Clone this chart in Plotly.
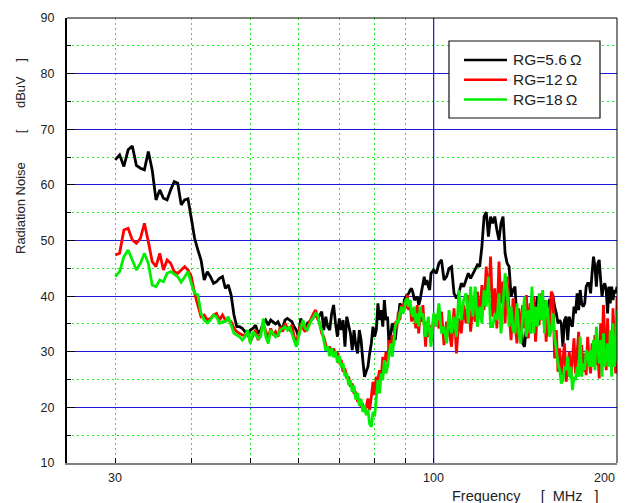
import numpy as np
import plotly.graph_objects as go

# Sweep points of the receiver: 0.5 MHz steps up to 100 MHz, 1 MHz steps above
FREQ_LOW = np.arange(30.0, 100.01, 0.5)
FREQ_HIGH = np.arange(101.0, 200.01, 1.0)
FREQ_MHZ = np.concatenate([FREQ_LOW, FREQ_HIGH])

# Radiated noise level [dBuV] for each gate resistance
RG_5P6 = [
    # 30 .. 50 MHz
    64.5, 65.4, 63.3, 66.3, 67.0, 63.5, 63.0, 62.7, 66.0, 62.7,
    57.3, 59.1, 57.6, 57.3, 59.1, 60.6, 60.3, 56.4, 57.3, 57.5,
    54.0, 50.4, 48.3, 46.5, 42.9, 44.4, 43.5, 42.3, 42.6, 43.2,
    43.5, 41.4, 42.0, 40.2, 36.6, 34.5, 34.5, 34.2, 33.6, 33.0,
    33.9,
    # 50.5 .. 100 MHz
    34.2, 34.8, 33.3, 33.9, 35.1, 35.7, 34.8, 35.7, 35.4, 35.0,
    35.4, 34.5, 34.2, 35.7, 36.0, 35.7, 35.4, 34.5, 33.9, 32.7,
    36.0, 34.5, 33.9, 35.1, 35.4, 35.7, 36.3, 36.6, 36.0, 36.6,
    37.2, 33.9, 36.3, 34.5, 33.9, 36.9, 38.4, 35.1, 32.7, 36.0,
    33.9, 35.7, 30.9, 36.3, 34.5, 33.3, 30.3, 33.9, 31.2, 29.7,
    33.9, 32.1, 28.5, 25.5, 26.5, 27.3, 29.7, 31.5, 34.5, 32.7,
    33.9, 38.7, 35.7, 37.5, 34.5, 39.3, 35.7, 36.3, 30.9, 32.7,
    35.1, 34.5, 32.1, 35.1, 35.7, 38.7, 38.1, 36.9, 39.3, 39.9,
    40.2, 40.5, 41.1, 41.4, 40.5, 39.3, 39.6, 39.9, 38.4, 39.3,
    40.8, 42.3, 43.5, 42.0, 42.9, 41.7, 41.1, 44.1, 44.4, 44.7,
    # 101 .. 200 MHz
    44.1, 45.9, 46.5, 42.9, 43.5, 45.0, 45.3, 40.5, 39.6, 40.5,
    42.3, 41.7, 42.9, 44.1, 43.2, 44.1, 44.7, 45.6, 45.3, 48.9,
    54.3, 55.1, 50.7, 54.3, 53.1, 54.3, 51.9, 50.1, 53.1, 54.3,
    47.7, 45.9, 45.3, 39.9, 41.1, 41.7, 35.7, 33.9, 35.7, 31.5,
    30.9, 34.5, 35.7, 33.3, 36.9, 38.1, 37.5, 39.9, 38.7, 36.9,
    35.7, 36.3, 37.5, 38.1, 39.3, 39.3, 39.9, 38.1, 36.9, 35.1,
    35.7, 35.1, 30.9, 35.7, 36.3, 32.1, 36.3, 35.1, 34.5, 38.1,
    36.9, 40.5, 37.5, 41.1, 38.7, 38.1, 38.7, 41.7, 42.3, 42.3,
    40.5, 44.1, 47.1, 45.3, 41.7, 45.9, 46.5, 42.9, 39.9, 41.7,
    42.3, 41.1, 36.9, 41.7, 38.7, 41.7, 39.3, 41.1, 40.5, 41.7,
]

RG_12 = [
    # 30 .. 50 MHz
    47.4, 47.7, 51.9, 52.2, 50.1, 49.5, 50.4, 53.1, 49.8, 46.2,
    45.3, 47.7, 44.7, 46.5, 45.9, 44.4, 44.1, 44.7, 45.3, 44.7,
    43.5, 40.5, 38.4, 36.3, 36.6, 35.7, 36.0, 36.6, 36.9, 35.7,
    36.6, 35.7, 35.7, 35.4, 34.2, 33.6, 33.3, 33.0, 33.0, 33.6,
    31.8,
    # 50.5 .. 100 MHz
    33.0, 33.9, 32.1, 33.3, 35.1, 33.6, 32.4, 34.2, 33.0, 33.6,
    32.7, 34.5, 33.6, 35.1, 34.2, 33.9, 34.8, 32.7, 31.8, 33.3,
    35.1, 34.2, 33.6, 34.5, 35.4, 36.0, 36.9, 37.5, 36.0, 35.1,
    33.3, 32.7, 31.2, 30.3, 30.9, 29.7, 30.6, 29.4, 29.7, 28.2,
    28.5, 26.4, 27.0, 25.2, 25.5, 23.7, 24.3, 22.5, 22.8, 21.0,
    21.6, 20.1, 20.4, 19.2, 20.0, 21.6, 19.5, 21.9, 24.6, 22.2,
    25.5, 24.9, 26.7, 25.2, 29.1, 27.0, 30.0, 28.2, 32.1, 30.3,
    33.0, 31.2, 35.4, 34.2, 37.2, 35.7, 38.4, 37.2, 39.0, 37.8,
    40.2, 37.5, 38.7, 35.4, 37.8, 36.0, 34.2, 38.4, 33.3, 36.6,
    35.4, 38.4, 33.6, 30.9, 35.4, 32.7, 34.8, 31.8, 33.0, 35.7,
    # 101 .. 200 MHz
    36.6, 34.2, 37.2, 31.2, 35.4, 33.6, 30.9, 37.8, 29.7, 36.0,
    33.3, 38.4, 35.1, 40.2, 33.6, 38.7, 35.4, 40.8, 36.0, 42.0,
    37.5, 45.3, 39.0, 47.1, 36.3, 41.4, 34.2, 46.2, 38.7, 42.6,
    35.1, 43.5, 37.2, 32.1, 39.6, 34.8, 31.5, 37.8, 33.0, 38.4,
    34.2, 40.2, 32.4, 38.7, 35.1, 39.9, 31.8, 37.2, 34.8, 40.5,
    36.0, 39.3, 31.8, 37.2, 34.5, 40.8, 40.2, 28.8, 33.9, 26.4,
    30.6, 25.8, 28.2, 31.5, 24.6, 27.9, 30.0, 25.2, 28.8, 32.4,
    26.1, 29.4, 33.6, 27.0, 31.2, 26.4, 29.7, 25.8, 32.7, 28.5,
    26.1, 31.5, 28.8, 33.0, 27.6, 30.3, 25.2, 35.1, 29.7, 38.4,
    31.2, 26.7, 36.0, 29.4, 33.3, 27.9, 37.8, 30.6, 26.1, 39.9,
]

RG_18 = [
    # 30 .. 50 MHz
    43.5, 44.4, 47.1, 48.3, 46.5, 44.7, 45.9, 47.7, 45.9, 42.0,
    41.7, 42.9, 42.6, 44.1, 44.4, 44.0, 43.5, 42.5, 43.5, 44.4,
    42.3, 40.5, 40.2, 36.9, 35.7, 35.2, 35.7, 36.6, 36.3, 35.1,
    35.4, 35.4, 36.3, 34.8, 33.3, 33.0, 32.7, 32.1, 32.7, 33.9,
    31.5,
    # 50.5 .. 100 MHz
    33.6, 33.0, 32.4, 32.7, 36.0, 32.7, 31.5, 33.9, 33.3, 32.7,
    33.0, 33.9, 34.2, 34.5, 33.9, 34.5, 33.3, 32.1, 30.9, 32.7,
    34.5, 35.7, 34.2, 33.9, 34.8, 35.7, 36.2, 36.9, 36.6, 34.8,
    33.9, 32.1, 30.2, 31.0, 29.2, 30.6, 29.0, 30.1, 28.0, 29.3,
    27.2, 27.9, 25.6, 26.2, 24.0, 24.9, 22.8, 23.9, 21.4, 22.6,
    20.3, 21.5, 19.2, 20.4, 18.6, 19.6, 17.0, 16.5, 19.2, 18.4,
    22.5, 24.9, 22.5, 26.1, 24.9, 28.5, 26.1, 27.3, 29.7, 31.5,
    29.1, 32.1, 34.5, 35.7, 35.1, 36.9, 38.1, 36.9, 37.5, 39.3,
    39.6, 38.1, 39.3, 36.9, 36.3, 38.1, 35.1, 36.9, 34.5, 38.1,
    36.3, 36.9, 35.1, 32.7, 34.5, 36.3, 33.3, 30.9, 34.5, 36.9,
    # 101 .. 200 MHz
    34.5, 38.7, 33.3, 34.5, 31.5, 37.5, 33.3, 36.3, 32.7, 41.1,
    35.7, 39.3, 40.5, 35.1, 41.7, 36.3, 41.7, 34.5, 38.1, 35.1,
    41.1, 38.1, 43.5, 34.5, 34.5, 36.9, 35.7, 40.5, 33.3, 39.9,
    44.1, 41.1, 34.5, 38.1, 33.9, 33.3, 38.7, 33.3, 31.5, 36.3,
    39.9, 32.7, 37.5, 33.3, 41.7, 33.3, 38.1, 34.5, 40.5, 35.7,
    41.1, 33.3, 39.3, 36.9, 32.7, 33.9, 36.9, 32.7, 29.7, 27.9,
    26.7, 24.3, 24.9, 27.3, 26.7, 29.1, 25.5, 27.3, 23.1, 25.5,
    24.9, 27.3, 25.5, 32.7, 25.5, 27.9, 26.7, 30.3, 29.7, 27.3,
    30.3, 27.3, 32.1, 26.7, 34.5, 30.9, 27.9, 32.1, 25.5, 33.3,
    27.3, 29.1, 31.5, 27.3, 33.9, 25.5, 35.1, 27.3, 28.5, 37.5,
]

SERIES_NAMES = ["RG=5.6\u2009\u03a9", "RG=12\u2009\u03a9", "RG=18\u2009\u03a9"]
SERIES_COLORS = ["#000000", "#ff0000", "#00ee00"]

X_LABEL_VALUES = [30, 100, 200]
X_DOTTED_GRID = [30, 40, 50, 60, 70, 80, 90]
X_SOLID_GRID = 100
Y_RANGE = [10, 90]

FONT = "Arial, Liberation Sans, sans-serif"
NB = "\u00a0"
GRID_BLUE = "#1a1ad8"
GRID_GREEN = "#22ee22"
X_RANGE = [np.log10(25), np.log10(200)]

fig = go.Figure()

# Solid decade grid line at 100 MHz, drawn beneath the measurements
fig.add_trace(go.Scatter(
    x=[X_SOLID_GRID, X_SOLID_GRID], y=Y_RANGE, mode="lines",
    line=dict(color=GRID_BLUE, width=1.2), showlegend=False, hoverinfo="skip",
))
for name, vals, color in zip(SERIES_NAMES, [RG_5P6, RG_12, RG_18], SERIES_COLORS):
    fig.add_trace(go.Scatter(
        x=FREQ_MHZ, y=vals, mode="lines", name=name,
        line=dict(color=color, width=2.8), showlegend=False,
    ))


def px(xp):
    return (xp - 67) / 550.0


def py(yp):
    return (463 - yp) / 445.0


annotations = []
for v in X_LABEL_VALUES:
    annotations.append(dict(
        x=np.log10(v), xref="x", y=0, yref="paper",
        text=str(v), showarrow=False,
        xanchor="right" if v == 200 else "center", yanchor="top", yshift=-6,
        font=dict(family=FONT, size=12.5, color="#222"),
    ))

annotations.append(dict(
    x=px(525), xref="paper", y=py(496), yref="paper",
    text="Frequency" + NB * 5 + "[" + NB * 2 + "MHz" + NB * 3 + "]",
    showarrow=False, xanchor="center", yanchor="middle",
    font=dict(family=FONT, size=14.5, color="#222"),
))
annotations.append(dict(
    x=px(20), xref="paper", y=py(156), yref="paper",
    text="Radiation Noise" + NB * 8 + "[" + NB * 6 + "dBuV" + NB * 4 + "]",
    textangle=-90, showarrow=False, xanchor="center", yanchor="middle",
    font=dict(family=FONT, size=13, color="#222"),
))

# Frame on the top and right, plus the legend box with sample lines and labels
shapes = [
    dict(type="line", xref="paper", yref="paper", x0=0, x1=1, y0=1, y1=1,
         line=dict(color="#000", width=1)),
    dict(type="line", xref="paper", yref="paper", x0=1, x1=1, y0=0, y1=1,
         line=dict(color="#000", width=1)),
    dict(type="rect", xref="paper", yref="paper",
         x0=px(449), x1=px(600), y0=py(118), y1=py(41),
         fillcolor="white", line=dict(color="#111", width=1.2), layer="above"),
]
for i, (name, color) in enumerate(zip(SERIES_NAMES, SERIES_COLORS)):
    yrow = py(60 + 19.7 * i)
    shapes.append(dict(type="line", xref="paper", yref="paper",
                       x0=px(464), x1=px(507), y0=yrow, y1=yrow,
                       line=dict(color=color, width=2.5), layer="above"))
    annotations.append(dict(
        x=px(511), xref="paper", y=yrow, yref="paper", text=name,
        showarrow=False, xanchor="left", yanchor="middle",
        font=dict(family=FONT, size=15.5, color="#222"),
    ))

fig.update_layout(
    width=628, height=503,
    margin=dict(l=67, r=11, t=18, b=40),
    paper_bgcolor="white", plot_bgcolor="white",
    font=dict(family=FONT, size=12.5, color="#222"),
    showlegend=False,
    xaxis=dict(
        type="log", range=X_RANGE,
        tickvals=X_DOTTED_GRID + [X_SOLID_GRID], showticklabels=False,
        ticks="inside", ticklen=5, tickcolor="#000", tickwidth=1,
        showgrid=True, gridcolor=GRID_GREEN, gridwidth=1, griddash="2px,3px",
        showline=True, linecolor="#808080", linewidth=2,
        zeroline=False,
    ),
    yaxis=dict(
        range=Y_RANGE, tick0=10, dtick=10,
        ticks="inside", ticklen=8, tickcolor="#000", tickwidth=1,
        showgrid=True, gridcolor=GRID_BLUE, gridwidth=1,
        showline=True, linecolor="#000", linewidth=2,
        zeroline=False, ticklabelstandoff=8,
        tickfont=dict(family=FONT, size=12.5, color="#222"),
        minor=dict(
            dtick=5, ticks="inside", ticklen=4, tickcolor="#000",
            showgrid=True, gridcolor=GRID_GREEN, griddash="2px,3px", gridwidth=1,
        ),
    ),
    annotations=annotations,
    shapes=shapes,
)

fig.write_html("out.html")
